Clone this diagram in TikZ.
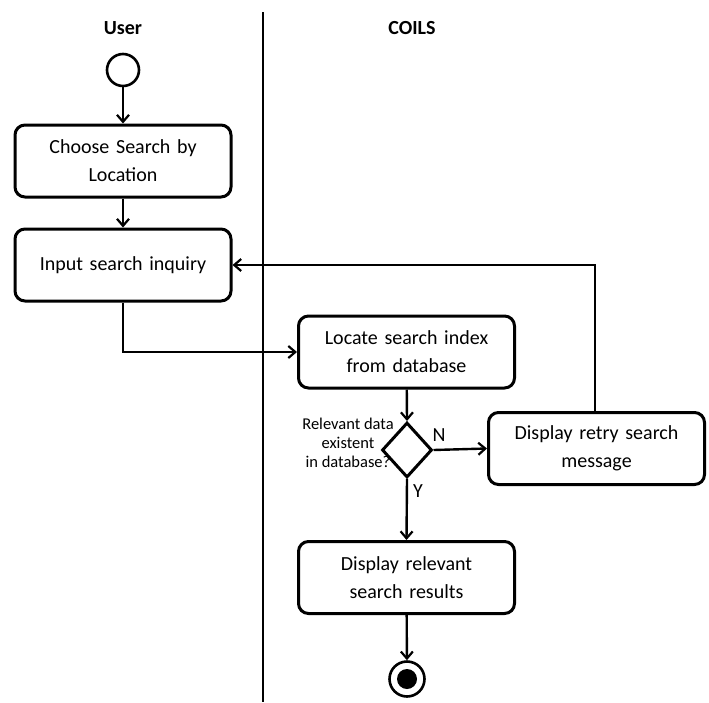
\documentclass[tikz,border=0pt]{standalone}
\usepackage{fontspec}
\setmainfont{Carlito}
\usetikzlibrary{arrows.meta,shapes.geometric}
\begin{document}
\begin{tikzpicture}[x=1pt,y=-1pt,
  line width=3pt,
  flow/.style={-{Straight Barb[length=7pt,width=12pt,line width=2.2pt]}, line width=2.4pt},
  actbox/.style={draw, line width=3pt, rounded corners=10pt, minimum width=216pt, minimum height=72pt, text width=205pt, align=center, font=\fontsize{20}{28}\selectfont, inner sep=0pt},
  lanehead/.style={font=\fontsize{20}{22}\selectfont\bfseries},
  small/.style={font=\fontsize{16.5}{19}\selectfont, align=center}]
\useasboundingbox (0,0) rectangle (709,702);
\coordinate (divtop) at (263,12);
\coordinate (divbot) at (263,702);
\draw[line width=2.2pt] (divtop) -- (divbot);
\node[lanehead] (user) at (123,28) {User};
\node[lanehead] (coils) at (412,28) {COILS};
\node[draw, circle, line width=2.6pt, minimum size=32pt, inner sep=0pt] (start) at (123,70) {};
\node[actbox] (choose) at (123,161) {Choose Search by\\Location};
\node[actbox] (input) at (123,265) {Input search inquiry};
\node[actbox] (locate) at (406.5,352) {Locate search index\\from database};
\node[draw, diamond, line width=3pt, minimum width=50pt, minimum height=55pt, inner sep=0pt] (dec) at (407,450) {};
\node[actbox] (retry) at (596.5,448.5) {Display retry search\\message};
\node[actbox] (results) at (406.5,577.5) {Display relevant\\search results};
\node[draw, circle, line width=2.6pt, minimum size=35pt, inner sep=0pt] (end) at (407,679) {};
\node[fill, circle, minimum size=20pt, inner sep=0pt] (endin) at (407,679) {};
\node[small] (q) at (348,443) {Relevant data\\existent\\in database?};
\node[font=\fontsize{20}{22}\selectfont] (nlab) at (439,435) {N};
\node[font=\fontsize{20}{22}\selectfont] (ylab) at (418,491) {Y};
\draw[flow] (start) -- (choose);
\draw[flow] (choose) -- (input);
\draw[flow] (input.south) |- (locate.west);
\draw[flow] (locate) -- (dec.north);
\draw[flow] (dec.east) -- (retry.west);
\draw[flow] (retry.north -| 595,0) |- (input.east);
\draw[flow] (dec.south) -- (results.north);
\draw[flow] (results) -- (end);
\end{tikzpicture}
\end{document}
